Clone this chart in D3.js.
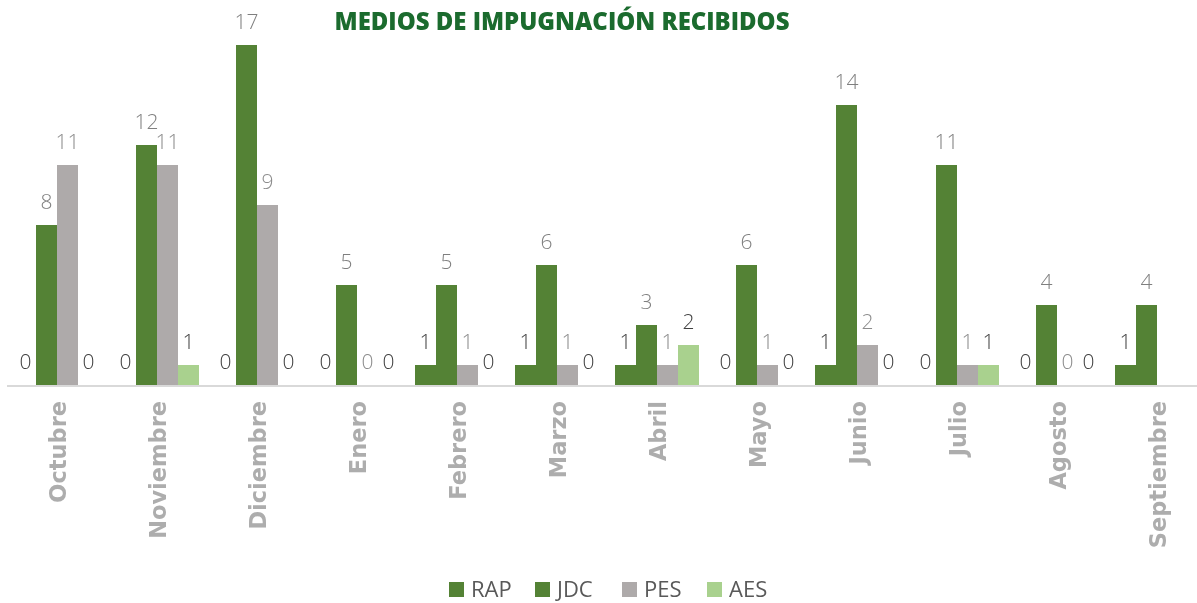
<!DOCTYPE html>
<html>
<head>
<meta charset="utf-8">
<script src="https://cdn.jsdelivr.net/npm/d3@7"></script>
<style>
  body { margin: 0; background: #fff; }
  svg { display: block; will-change: transform; }
</style>
</head>
<body>
<div id="chart"></div>
<script>
// data
var months = ["Octubre", "Noviembre", "Diciembre", "Enero", "Febrero", "Marzo",
    "Abril", "Mayo", "Junio", "Julio", "Agosto", "Septiembre"];
var seriesNames = ["RAP", "JDC", "PES", "AES"];
var rap = [0, 0, 0, 0, 1, 1, 1, 0, 1, 0, 0, 1];
var jdc = [8, 12, 17, 5, 5, 6, 3, 6, 14, 11, 4, 4];
var pes = [11, 11, 9, 0, 1, 1, 1, 1, 2, 1, 0, null];
var aes = [0, 1, 0, 0, 0, 0, 2, 0, 0, 1, 0, null];

var svgWidth = 1197;
var svgHeight = 603;

var colors = { RAP: "#548235", JDC: "#548235", PES: "#AEAAAA", AES: "#A9D18E" };
var labelColors = { RAP: "#404040", JDC: "#7f7f7f", PES: "#8c8c8c", AES: "#404040" };

var svg = d3.select("#chart")
    .append("svg")
    .attr("width", svgWidth)
    .attr("height", svgHeight);

var baseline = 385;

// scales
var xScale = d3.scaleBand()
    .domain(months)
    .range([7, 1207])
    .paddingInner(0.16)
    .paddingOuter(0.08);

var xInner = d3.scaleBand()
    .domain(seriesNames)
    .range([0, xScale.bandwidth()]);

var yScale = d3.scaleLinear()
    .domain([0, 17])
    .range([baseline, baseline - 17 * 20]);

var table = months.map(function(m, i) {
    return { month: m, values: [
        { key: "RAP", value: rap[i] },
        { key: "JDC", value: jdc[i] },
        { key: "PES", value: pes[i] },
        { key: "AES", value: aes[i] }
    ] };
});

// title
svg.append("text")
    .attr("x", 562)
    .attr("y", 30)
    .attr("text-anchor", "middle")
    .attr("font-family", "Open Sans")
    .attr("font-weight", 800)
    .attr("font-size", "24px")
    .attr("fill", "#1B6B2E")
    .attr("textLength", 455)
    .attr("lengthAdjust", "spacingAndGlyphs")
    .text("MEDIOS DE IMPUGNACIÓN RECIBIDOS");

// bars
var groups = svg.append("g")
    .selectAll("g")
    .data(table)
    .enter()
    .append("g")
    .attr("transform", d => `translate(${xScale(d.month)}, 0)`);

groups.selectAll("rect")
    .data(d => d.values.filter(v => v.value !== null))
    .enter()
    .append("rect")
    .attr("x", d => xInner(d.key))
    .attr("y", d => yScale(d.value))
    .attr("width", xInner.bandwidth())
    .attr("height", d => baseline - yScale(d.value))
    .attr("fill", d => colors[d.key]);

groups.selectAll("text")
    .data(d => d.values.filter(v => v.value !== null))
    .enter()
    .append("text")
    .attr("x", d => xInner(d.key) + xInner.bandwidth() / 2)
    .attr("y", d => yScale(d.value) - 16)
    .attr("text-anchor", "middle")
    .attr("font-family", "Open Sans")
    .attr("font-weight", 300)
    .attr("font-size", "21px")
    .attr("fill", d => labelColors[d.key])
    .text(d => d.value);

// axis line
svg.append("line")
    .attr("x1", 7)
    .attr("x2", svgWidth)
    .attr("y1", baseline + 1)
    .attr("y2", baseline + 1)
    .attr("stroke", "#d9d9d9")
    .attr("stroke-width", 2);

// month labels
svg.append("g")
    .selectAll("text")
    .data(months)
    .enter()
    .append("text")
    .attr("transform", d => `translate(${xScale(d) + xScale.bandwidth() / 2 + 9}, 401) rotate(-90)`)
    .attr("text-anchor", "end")
    .attr("font-family", "DejaVu Sans")
    .attr("font-weight", 700)
    .attr("font-size", "22.5px")
    .attr("fill", "#ADADAD")
    .text(d => d);

// legend
var legendX = [449, 535, 622, 707];
var legend = svg.append("g")
    .selectAll("g")
    .data(seriesNames)
    .enter()
    .append("g")
    .attr("transform", (d, i) => `translate(${legendX[i]}, 582)`);

legend.append("rect")
    .attr("width", 15)
    .attr("height", 15)
    .attr("fill", d => colors[d]);

legend.append("text")
    .attr("x", 22)
    .attr("y", 15)
    .attr("font-family", "Open Sans")
    .attr("font-size", "22px")
    .attr("fill", "#595959")
    .text(d => d);
</script>
</body>
</html>
